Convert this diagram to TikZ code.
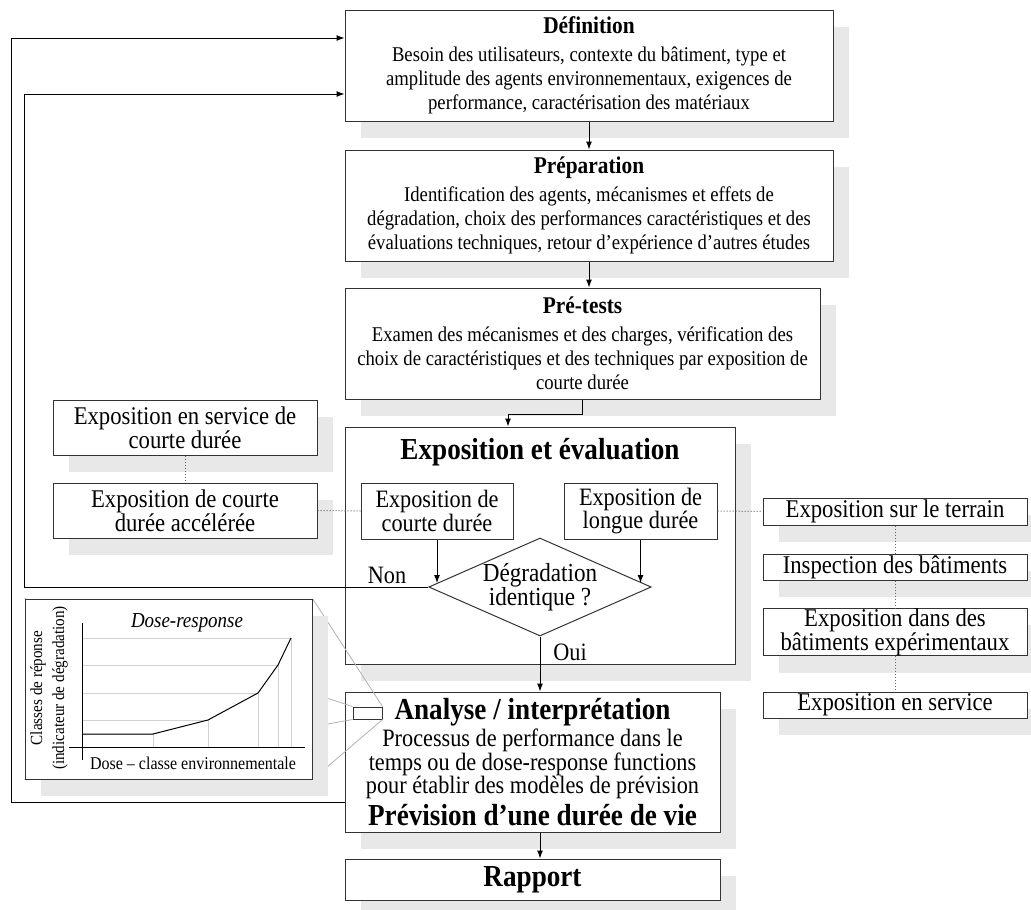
\documentclass[tikz,border=0pt]{standalone}
\usepackage{fontspec}
\setmainfont{Liberation Serif}[FakeStretch=0.89]
\usetikzlibrary{shapes.geometric,shadows,arrows.meta}
\pgfdeclarelayer{front}
\pgfsetlayers{main,front}

\begin{document}
\begin{tikzpicture}[x=1pt,y=-1pt]
\tikzset{
  box/.style={draw=black!80,line width=1pt,fill=white,inner sep=0pt,align=center,
    drop shadow={shadow xshift=16pt,shadow yshift=-17pt,fill=black!9,opacity=1}},
  plain/.style={draw=black!80,line width=1pt,fill=white,inner sep=0pt,align=center},
  big/.style={font=\fontsize{21}{24}\selectfont},
  mid/.style={font=\fontsize{25}{23.5}\selectfont},
  side/.style={font=\fontsize{25.5}{23}\selectfont},
  head/.style={font=\fontsize{30.5}{32}\selectfont\bfseries},
  flow/.style={line width=1pt,-{Latex[length=8pt,width=6pt]}},
  link/.style={draw=black!60,dotted,line width=1pt},
  zoomline/.style={draw=black!30,line width=0.8pt},
  gridline/.style={draw=black!18,line width=0.9pt}
}
\useasboundingbox (0,0) rectangle (1031,910);

\node[box,big,minimum width=488pt,minimum height=111pt] (def) at (589,65.5)
  {{\fontsize{24}{27}\selectfont\bfseries Définition}\\[4pt]
   Besoin des utilisateurs, contexte du bâtiment, type et\\
   amplitude des agents environnementaux, exigences de\\
   performance, caractérisation des matériaux};
\node[box,big,minimum width=488pt,minimum height=111pt] (prep) at (589,205.5)
  {{\fontsize{24}{27}\selectfont\bfseries Préparation}\\[4pt]
   Identification des agents, mécanismes et effets de\\
   dégradation, choix des performances caractéristiques et des\\
   évaluations techniques, retour d’expérience d’autres études};
\node[box,big,minimum width=475pt,minimum height=111pt] (pretests) at (582.5,343.5)
  {{\fontsize{24}{27}\selectfont\bfseries Pré-tests}\\[4pt]
   Examen des mécanismes et des charges, vérification des\\
   choix de caractéristiques et des techniques par exposition de\\
   courte durée};

\node[box,minimum width=390pt,minimum height=237pt] (expo) at (540,545.5) {};
\node[head] (expotitle) at (540,452) {Exposition et évaluation};
\node[plain,mid,minimum width=152pt,minimum height=56pt] (courte) at (437,511)
  {Exposition de\\courte durée};
\node[plain,mid,minimum width=153pt,minimum height=56pt] (longue) at (640.5,511)
  {Exposition de\\longue durée};
\node[plain,diamond,aspect=2.27,minimum width=222pt,minimum height=98pt,
  font=\fontsize{26}{24}\selectfont] (decision) at (540,587)
  {Dégradation\\identique ?};
\node[mid] (non) at (387,575) {Non};
\node[mid] (oui) at (570,652) {Oui};

\node[box,side,minimum width=264pt,minimum height=55pt] (servcourte) at (185,427.5)
  {Exposition en service de\\courte durée};
\node[box,side,minimum width=264pt,minimum height=55pt] (accel) at (185,510.5)
  {Exposition de courte\\durée accélérée};

\node[box,side,minimum width=264pt,minimum height=27pt] (terrain) at (895,511.5)
  {Exposition sur le terrain};
\node[box,side,minimum width=264pt,minimum height=26pt] (inspection) at (895,567)
  {Inspection des bâtiments};
\node[box,side,minimum width=264pt,minimum height=46pt] (batexp) at (895,632)
  {Exposition dans des\\bâtiments expérimentaux};
\node[box,side,minimum width=264pt,minimum height=26pt] (enservice) at (895,705)
  {Exposition en service};

\node[box,mid,minimum width=375pt,minimum height=140pt] (analyse) at (532.5,762)
  {{\fontsize{30.5}{32}\selectfont\bfseries Analyse / interprétation}\\[2.5pt]
   Processus de performance dans le\\
   temps ou de dose-response functions\\
   pour établir des modèles de prévision\\[4.5pt]
   {\fontsize{30.5}{32}\selectfont\bfseries Prévision d’une durée de vie}};
\node[box,head,minimum width=375pt,minimum height=41pt] (rapport) at (532.5,879.5) {Rapport};
\node[plain,minimum width=29pt,minimum height=12pt] (zoomrect) at (367.5,713) {};

\draw[flow] (def.south) -- (prep.north);
\draw[flow] (prep.south) -- (prep.south |- pretests.north);
\draw[flow] (pretests.south) -- ++(0,15) -| ([xshift=-32pt]expo.north);
\draw[flow,shorten >=4pt] (courte.south) -- (courte.south |- decision.west);
\draw[flow,shorten >=4pt] (longue.south) -- (longue.south |- decision.west);
\draw[flow] (decision.south) -- (decision.south |- analyse.north);
\draw[flow] (decision.south |- analyse.south) -- (decision.south |- rapport.north);
\draw[flow] (decision.west) -- ++(-404,0) |- ([yshift=-28.5pt]def.west);
\draw[flow] ([yshift=-40pt]analyse.west) -- ++(-333,0) |- ([yshift=27.5pt]def.west);

\draw[link] (servcourte.south) -- (accel.north);
\draw[link] (accel.east) -- (courte.west);
\draw[link] (longue.east) -- (terrain.west);
\draw[link] (terrain.south) -- (inspection.north);
\draw[link] (inspection.south) -- (batexp.north);
\draw[link] (batexp.south) -- (enservice.north);

\begin{pgfonlayer}{front}
\node[box,minimum width=287pt,minimum height=180pt] (inset) at (168.5,689) {};
\foreach \px/\py in {153/734,208/720,258/693,278/665,291/638}
  \draw[gridline] (\px,747) -- (\px,\py) -- (82,\py);
\draw[line width=1pt] (82,623) -- (82,760);
\draw[line width=1pt] (69,747) -- (305,747);
\draw[line width=1pt] (82,734) -- (153,734) -- (208,720) -- (258,693) -- (278,665) -- (291,638);
\node[font=\fontsize{21.3}{24}\selectfont\itshape] (dosetitle) at (187,623) {Dose-response};
\node[font=\fontsize{18}{20}\selectfont] (doseaxis) at (193,763) {Dose – classe environnementale};
\node[font=\fontsize{17}{20}\selectfont,rotate=90] (respaxis) at (38,688) {Classes de réponse};
\node[font=\fontsize{17}{20}\selectfont,rotate=90] (respaxis2) at (60,688) {(indicateur de dégradation)};
\end{pgfonlayer}

\draw[zoomline] (inset.north west) -- (zoomrect.north west);
\draw[zoomline] (inset.south west) -- (zoomrect.south west);
\draw[zoomline] (inset.north east) -- (zoomrect.north east);
\draw[zoomline] (inset.south east) -- (zoomrect.south east);
\end{tikzpicture}
\end{document}
